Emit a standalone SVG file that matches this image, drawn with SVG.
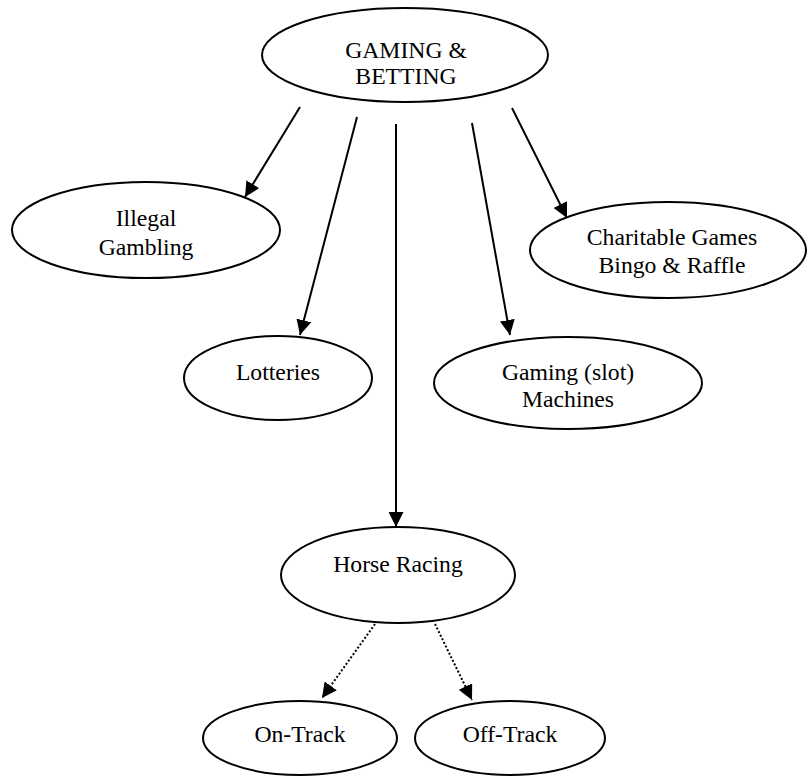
<svg xmlns="http://www.w3.org/2000/svg" width="808" height="777" viewBox="0 0 808 777">
<style>
.n ellipse{fill:#fff;stroke:#000;stroke-width:2}
.n text{font-family:"Liberation Serif","Times New Roman",serif;font-size:23.7px;fill:#000;text-anchor:middle}
.e line{stroke:#000;stroke-width:2}
.e .d{stroke-dasharray:2 2}
</style>
<defs>
<marker id="ah" markerUnits="userSpaceOnUse" markerWidth="16" markerHeight="15" refX="15" refY="7.5" orient="auto">
<path d="M0,0 L15,7.5 L0,15 Z" fill="#000"/>
</marker>
</defs>
<rect width="808" height="777" fill="#fff"/>
<g class="e" id="connectors">
<line x1="300" y1="107" x2="245" y2="197" marker-end="url(#ah)"/>
<line x1="357" y1="117" x2="300" y2="335" marker-end="url(#ah)"/>
<line x1="396" y1="124" x2="396" y2="527" marker-end="url(#ah)"/>
<line x1="472" y1="123" x2="510" y2="335" marker-end="url(#ah)"/>
<line x1="512" y1="108" x2="567" y2="218" marker-end="url(#ah)"/>
<line class="d" x1="375" y1="624" x2="322" y2="698" marker-end="url(#ah)"/>
<line class="d" x1="435" y1="624" x2="472" y2="700" marker-end="url(#ah)"/>
</g>
<g class="n" id="gaming-betting">
<ellipse cx="405" cy="55" rx="143" ry="47"/>
<text x="406" y="58">GAMING &amp;</text>
<text x="406" y="84">BETTING</text>
</g>
<g class="n" id="illegal-gambling">
<ellipse cx="146" cy="230" rx="134" ry="48"/>
<text x="146" y="226">Illegal</text>
<text x="146" y="255">Gambling</text>
</g>
<g class="n" id="charitable-games">
<ellipse cx="668" cy="250" rx="138" ry="48"/>
<text x="672" y="245">Charitable Games</text>
<text x="672" y="273">Bingo &amp; Raffle</text>
</g>
<g class="n" id="lotteries">
<ellipse cx="278" cy="378" rx="94" ry="42"/>
<text x="278" y="380">Lotteries</text>
</g>
<g class="n" id="gaming-machines">
<ellipse cx="568" cy="383" rx="134" ry="46"/>
<text x="568" y="380">Gaming (slot)</text>
<text x="568" y="407">Machines</text>
</g>
<g class="n" id="horse-racing">
<ellipse cx="398" cy="575" rx="117" ry="48"/>
<text x="398" y="572">Horse Racing</text>
</g>
<g class="n" id="on-track">
<ellipse cx="300" cy="738" rx="97" ry="37"/>
<text x="300" y="742">On-Track</text>
</g>
<g class="n" id="off-track">
<ellipse cx="510" cy="738" rx="95" ry="37"/>
<text x="510" y="742">Off-Track</text>
</g>
</svg>
